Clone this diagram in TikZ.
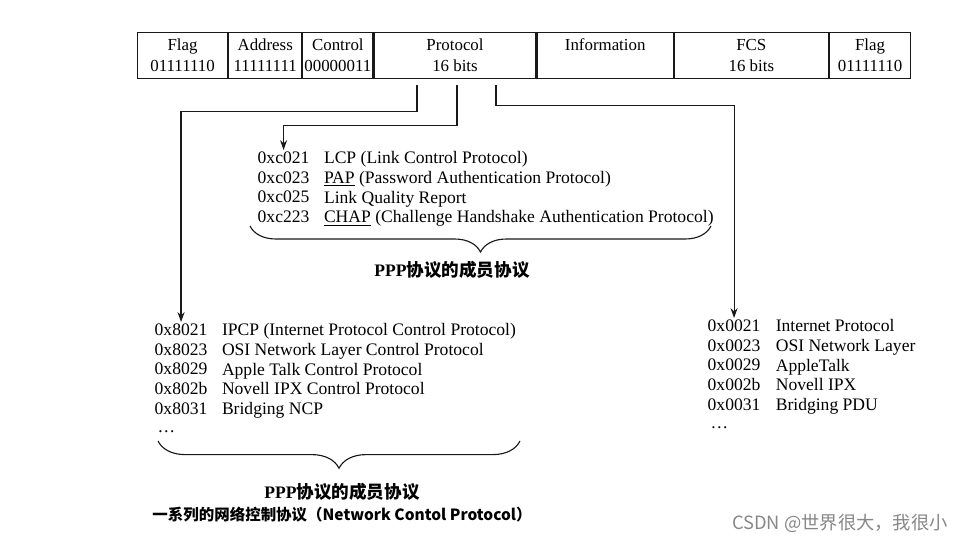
\documentclass[tikz,border=0pt]{standalone}
\usepackage{fontspec}
\setmainfont{Liberation Serif}
\newfontfamily\cjk{Noto Sans CJK SC}
\usetikzlibrary{positioning, arrows.meta, calc, decorations.pathreplacing}
\definecolor{inkblack}{RGB}{25,25,25}
\definecolor{markgray}{RGB}{135,135,135}

\begin{document}
\begin{tikzpicture}[
  x=0.025cm, y=-0.025cm,
  cell/.style={rectangle, draw=inkblack, line width=0.8pt, minimum height=1.15cm,
               inner sep=0pt, align=center, font=\fontsize{12}{15}\selectfont},
  codes/.style={inner sep=1pt, align=left, anchor=north west,
                execute at begin node=\strut, font=\fontsize{12.5}{14}\selectfont},
  arr/.style={-{Stealth[length=7pt, width=5pt]}, line width=0.8pt, color=inkblack},
  brace/.style={decorate, decoration={brace, mirror, amplitude=#1},
                line width=0.8pt, color=inkblack},
  caption/.style={align=center, font=\bfseries\fontsize{12.5}{15.5}\selectfont}
]
  \useasboundingbox (0,0) rectangle (970,543);

  % PPP frame
  \node[cell, minimum width=2.25cm, anchor=north west] (flag1) at (137,32) {Flag\\01111110};
  \node[cell, minimum width=1.825cm, right=0pt of flag1] (addr)  {Address\\11111111};
  \node[cell, minimum width=1.75cm,  right=0pt of addr]  (ctrl)  {Control\\00000011};
  \node[cell, minimum width=4.05cm,  right=0pt of ctrl]  (proto) {Protocol\\16 bits};
  \node[cell, minimum width=3.4cm,   right=0pt of proto] (info)  {Information\\\mbox{}};
  \node[cell, minimum width=3.85cm,  right=0pt of info]  (fcs)   {FCS\\16 bits};
  \node[cell, minimum width=2.025cm, right=0pt of fcs]   (flag2) {Flag\\01111110};

  % LCP list
  \node[codes] (lcpHex) at (256,150) {0xc021\\0xc023\\0xc025\\0xc223};
  \node[codes, right=0.28cm of lcpHex.north east, anchor=north west] (lcpName)
    {LCP (Link Control Protocol)\\\underline{PAP} (Password Authentication Protocol)\\
     Link Quality Report\\\underline{CHAP} (Challenge Handshake Authentication Protocol)};

  % NCP list
  \node[codes] (ncpHex) at (153,322) {0x8021\\0x8023\\0x8029\\0x802b\\0x8031\\[-1pt]\,\dots};
  \node[codes, right=0.28cm of ncpHex.north east, anchor=north west] (ncpName)
    {IPCP (Internet Protocol Control Protocol)\\OSI Network Layer Control Protocol\\
     Apple Talk Control Protocol\\Novell IPX Control Protocol\\Bridging NCP};

  % network layer protocols
  \node[codes] (ipHex) at (706,318) {0x0021\\0x0023\\0x0029\\0x002b\\0x0031\\[-1pt]\,\dots};
  \node[codes, right=0.3cm of ipHex.north east, anchor=north west] (ipName)
    {Internet Protocol\\OSI Network Layer\\AppleTalk\\Novell IPX\\Bridging PDU};

  % arrows out of the protocol field
  \coordinate (s1) at ($(proto.south)+(-38,6)$);
  \coordinate (s2) at ($(proto.south)+(2,6)$);
  \coordinate (s3) at ($(proto.south)+(41,6)$);
  \draw[arr] (s1) -- ++(0,26) -| (ncpHex.north);
  \draw[arr] (s2) -- ++(0,40) -| (lcpHex.north);
  \draw[arr] (s3) -- ++(0,20) -| (ipHex.north);

  % braces and captions
  \coordinate (lcpL) at (250,226);
  \coordinate (lcpR) at (711,226);
  \draw[brace=0.65cm] (lcpL) -- (lcpR);
  \node[caption] (lcpCap) at (452,270) {PPP{\cjk 协议的成员协议}};

  \coordinate (ncpL) at (158,441);
  \coordinate (ncpR) at (520,441);
  \draw[brace=0.68cm] (ncpL) -- (ncpR);
  \node[caption] (ncpCap) at (342,503)
    {PPP{\cjk 协议的成员协议}\\
     {\cjk\fontsize{11}{15.5}\selectfont 一系列的网络控制协议（Network Contol Protocol）}};

  \node[font=\cjk\fontsize{13}{15}\selectfont, text=markgray] (mark) at (840,523)
    {CSDN @世界很大，我很小};
\end{tikzpicture}
\end{document}
